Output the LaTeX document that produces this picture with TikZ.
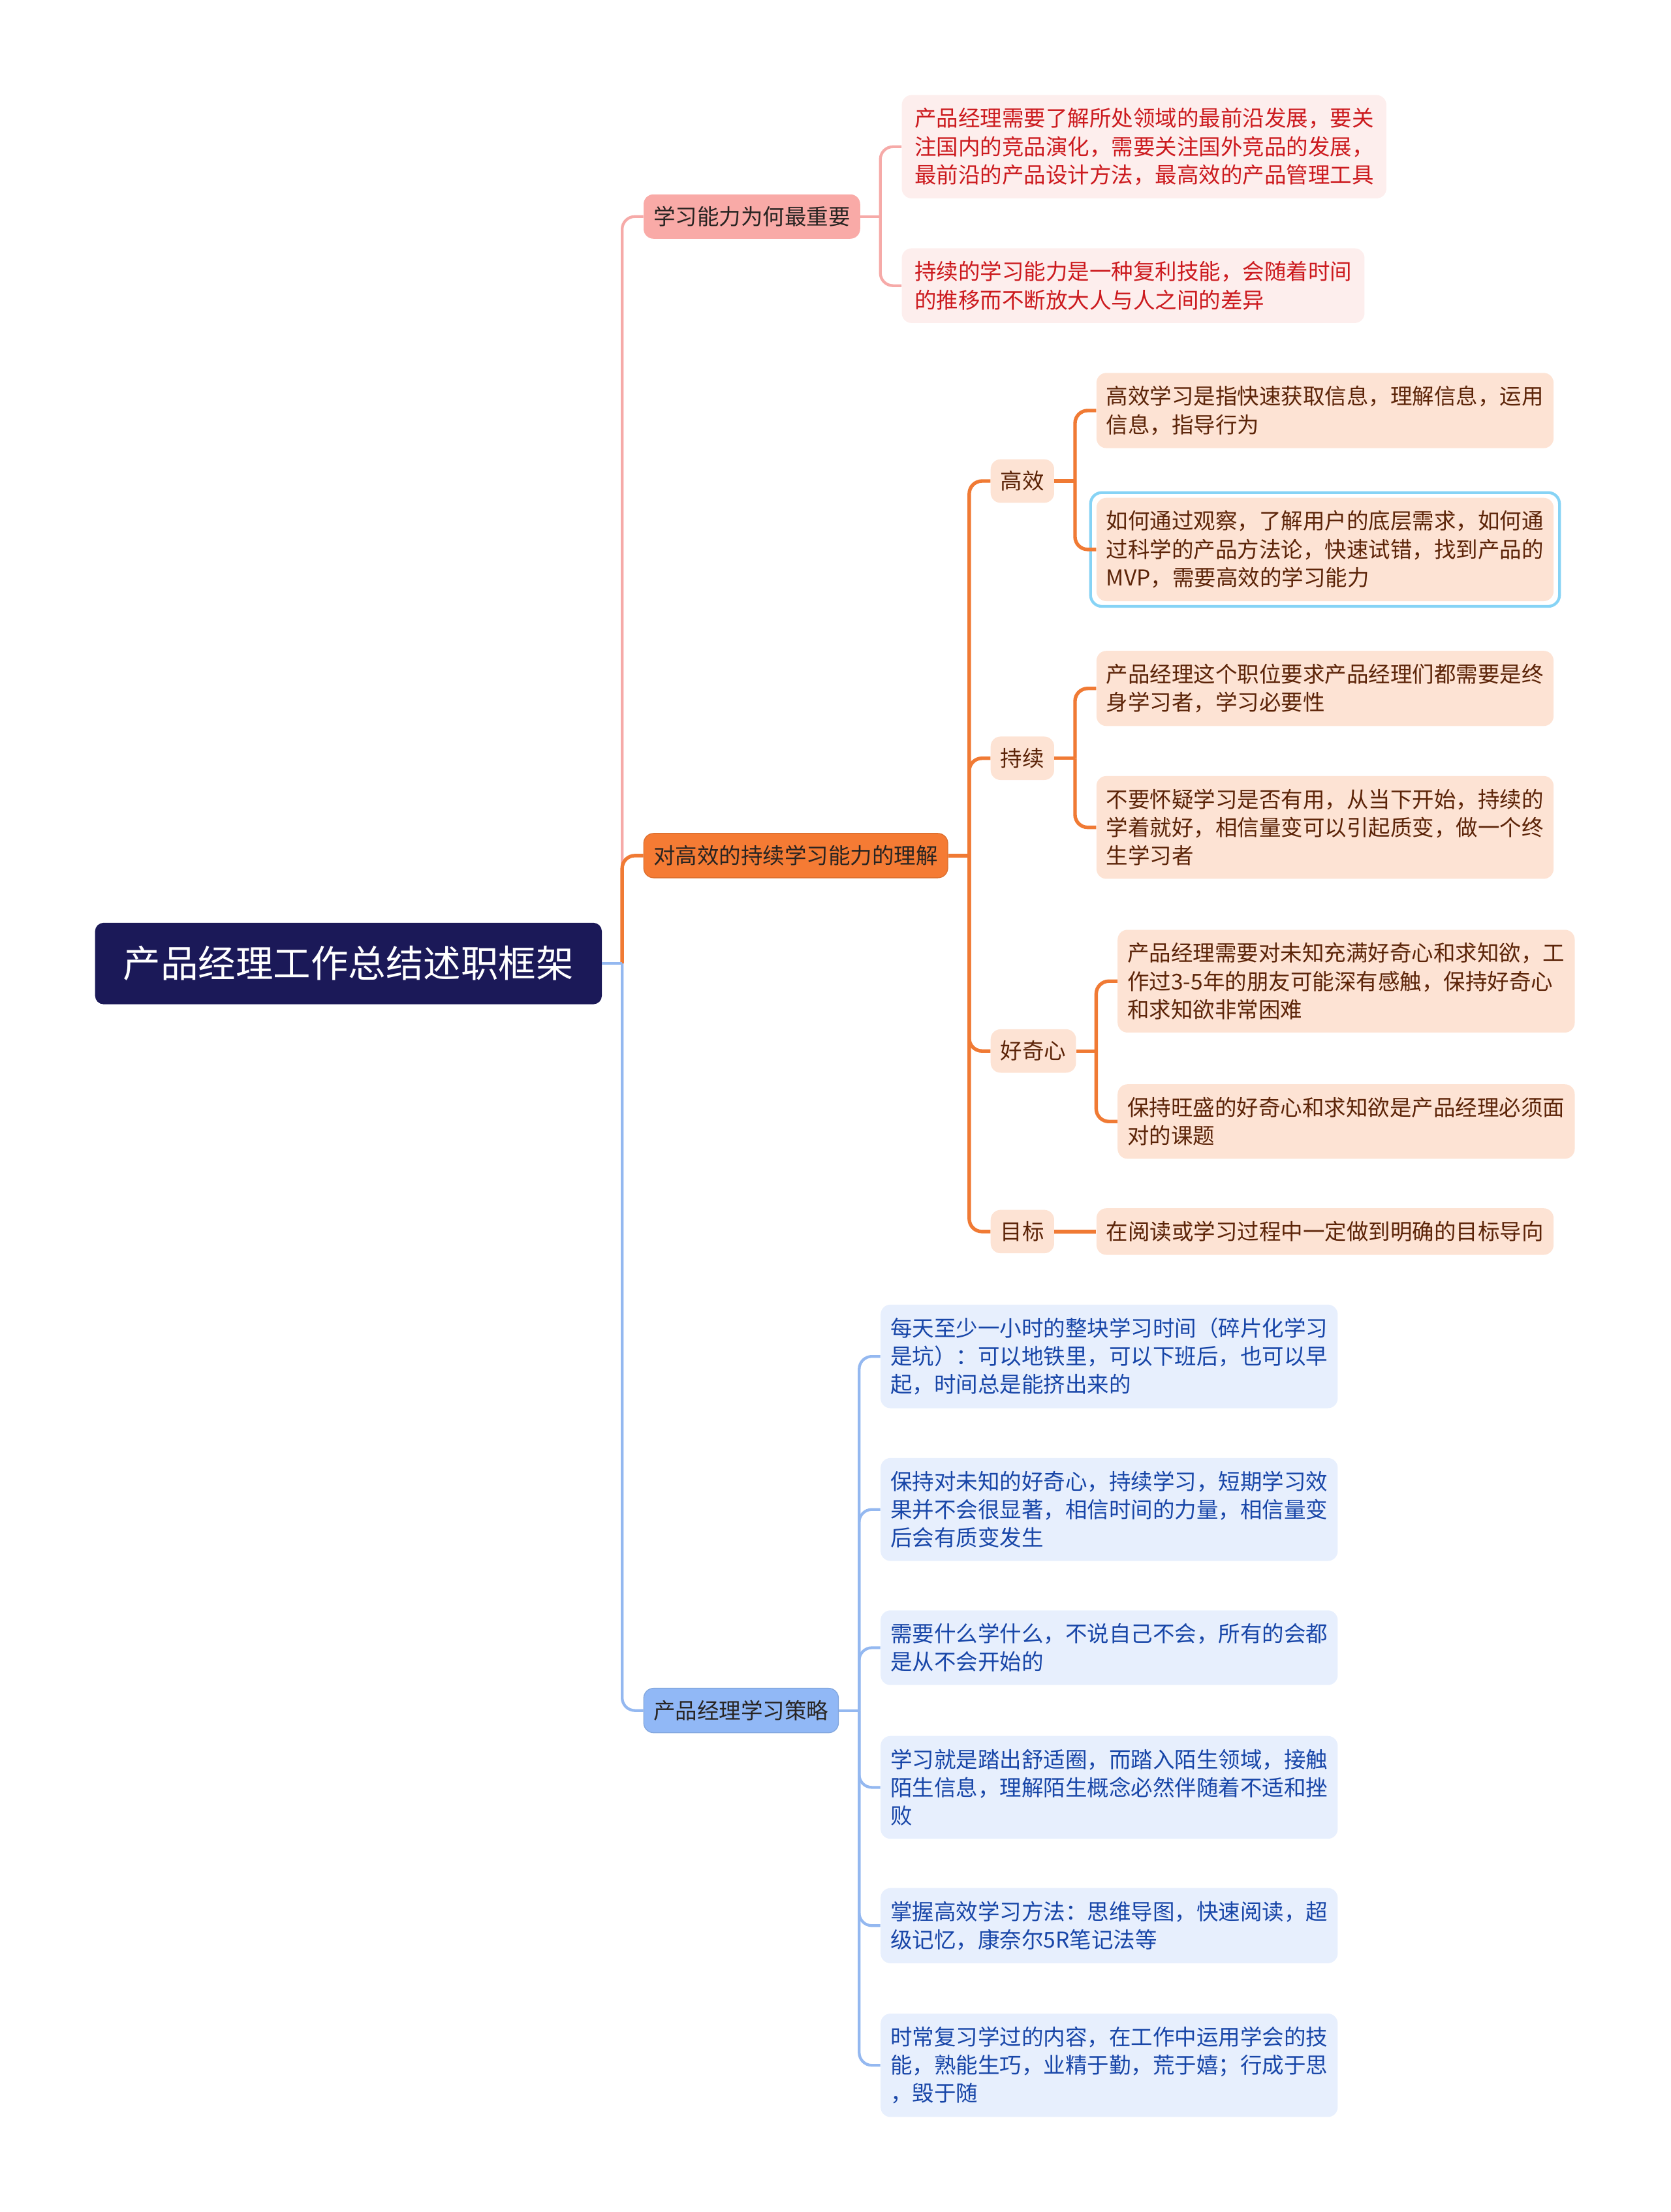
\documentclass[tikz,border=0pt]{standalone}
\usepackage{fontspec}
\setmainfont{Noto Sans CJK SC}
\usetikzlibrary{calc}

\definecolor{rootfill}{RGB}{27,25,88}
\definecolor{pinkhead}{RGB}{249,170,167}
\definecolor{pinkleaf}{RGB}{253,238,237}
\definecolor{pinktext}{RGB}{204,26,30}
\definecolor{pinkline}{RGB}{246,170,168}
\definecolor{orghead}{RGB}{245,123,52}
\definecolor{orgleaf}{RGB}{253,227,212}
\definecolor{orgtext}{RGB}{92,36,8}
\definecolor{orgline}{RGB}{240,122,52}
\definecolor{bluehead}{RGB}{145,184,246}
\definecolor{blueleaf}{RGB}{231,239,253}
\definecolor{bluetext}{RGB}{24,70,168}
\definecolor{blueline}{RGB}{148,184,240}
\definecolor{headtext}{RGB}{40,36,34}
\definecolor{selblue}{RGB}{134,211,245}

\begin{document}
\begin{tikzpicture}[x=1pt, y=-1pt,
  every node/.style={font=\fontsize{15.5}{20}\selectfont, align=left,
    anchor=west, rounded corners=7pt, inner xsep=7pt, inner ysep=9.25pt},
  rootbox/.style={fill=rootfill, text=white, anchor=center,
    font=\fontsize{26.6}{32}\selectfont, inner xsep=20pt, inner ysep=16.5pt,
    rounded corners=6pt},
  pinkhd/.style={fill=pinkhead, text=headtext, inner ysep=8.5pt},
  orghd/.style={fill=orghead, draw=orghead!90!black, line width=0.6pt,
    text=headtext, inner ysep=8.5pt},
  bluehd/.style={fill=bluehead, draw=bluehead!90!black, line width=0.6pt,
    text=headtext, inner ysep=8.5pt},
  pinkbox/.style={fill=pinkleaf, text=pinktext, inner xsep=9pt},
  orgmid/.style={fill=orgleaf, text=orgtext, inner ysep=8.25pt},
  orgbox/.style={fill=orgleaf, text=orgtext},
  bluebox/.style={fill=blueleaf, text=bluetext},
  pinkedge/.style={draw=pinkline, line width=2pt, rounded corners=9pt},
  orgedge/.style={draw=orgline, line width=2.5pt, rounded corners=9pt},
  blueedge/.style={draw=blueline, line width=2pt, rounded corners=9pt},
  selframe/.style={draw=selblue, line width=2pt, rounded corners=8pt}]

  \useasboundingbox (0,0) rectangle (1184,1568);

  % Root
  \node[rootbox] (root) at (247,683) {产品经理工作总结述职框架};
  \coordinate (rootj) at (441,683);

  % First level
  \node[pinkhd] (learn) at (456,153.5) {学习能力为何最重要};
  \node[orghd] (grasp) at (456,606.5) {对高效的持续学习能力的理解};
  \node[bluehd] (plan) at (456,1212.5) {产品经理学习策略};

  \draw[pinkedge] (rootj) |- (learn.west);
  \draw[orgedge] (rootj) |- (grasp.west);
  \draw[blueedge] (rootj) |- (plan.west);
  \draw[blueedge] (root.east) -- (rootj);

  % Why learning matters
  \node[pinkbox] (why1) at (639,104) {产品经理需要了解所处领域的最前沿发展，要关\\注国内的竞品演化，需要关注国外竞品的发展，\\最前沿的产品设计方法，最高效的产品管理工具};
  \node[pinkbox] (why2) at (639,202.5) {持续的学习能力是一种复利技能，会随着时间\\的推移而不断放大人与人之间的差异};

  \coordinate (learnj) at (624,153.5);
  \draw[pinkedge] (learn.east) -- (learnj);
  \draw[pinkedge] (learnj) |- (why1.west);
  \draw[pinkedge] (learnj) |- (why2.west);

  % Understanding: second level
  \node[orgmid] (fast) at (702,341) {高效};
  \node[orgmid] (keep) at (702,537.5) {持续};
  \node[orgmid] (curious) at (702,745) {好奇心};
  \node[orgmid] (goal) at (702,873) {目标};

  \coordinate (graspj) at (687,606.5);
  \draw[orgedge] (grasp.east) -- (graspj);
  \draw[orgedge] (graspj) |- (fast.west);
  \draw[orgedge] (graspj) |- (keep.west);
  \draw[orgedge] (graspj) |- (curious.west);
  \draw[orgedge] (graspj) |- (goal.west);

  % Understanding: leaves
  \node[orgbox] (fast1) at (777,291) {高效学习是指快速获取信息，理解信息，运用\\信息，指导行为};
  \node[orgbox] (fast2) at (777,389.5) {如何通过观察，了解用户的底层需求，如何通\\过科学的产品方法论，快速试错，找到产品的\\MVP，需要高效的学习能力};
  \draw[selframe] ([shift={(-4pt,3.5pt)}]fast2.north west) rectangle ([shift={(4pt,-3.5pt)}]fast2.south east);
  \node[orgbox] (keep1) at (777,488) {产品经理这个职位要求产品经理们都需要是终\\身学习者，学习必要性};
  \node[orgbox] (keep2) at (777,586.5) {不要怀疑学习是否有用，从当下开始，持续的\\学着就好，相信量变可以引起质变，做一个终\\生学习者};
  \node[orgbox] (curious1) at (792,695.5) {产品经理需要对未知充满好奇心和求知欲，工\\作过3-5年的朋友可能深有感触，保持好奇心\\和求知欲非常困难};
  \node[orgbox] (curious2) at (792,795) {保持旺盛的好奇心和求知欲是产品经理必须面\\对的课题};
  \node[orgbox] (goal1) at (777,873) {在阅读或学习过程中一定做到明确的目标导向};

  \coordinate (fastj) at (762,341);
  \coordinate (keepj) at (762,537.5);
  \coordinate (curiousj) at (777,745);
  \draw[orgedge] (fast.east) -- (fastj);
  \draw[orgedge] (fastj) |- (fast1.west);
  \draw[orgedge] (fastj) |- (fast2.west);
  \draw[orgedge] (keep.east) -- (keepj);
  \draw[orgedge] (keepj) |- (keep1.west);
  \draw[orgedge] (keepj) |- (keep2.west);
  \draw[orgedge] (curious.east) -- (curiousj);
  \draw[orgedge] (curiousj) |- (curious1.west);
  \draw[orgedge] (curiousj) |- (curious2.west);
  \draw[orgedge] (goal.east) -- (goal1.west);

  % Learning strategy
  \node[bluebox] (tip1) at (624,961.5) {每天至少一小时的整块学习时间（碎片化学习\\是坑）：可以地铁里，可以下班后，也可以早\\起，时间总是能挤出来的};
  \node[bluebox] (tip2) at (624,1070) {保持对未知的好奇心，持续学习，短期学习效\\果并不会很显著，相信时间的力量，相信量变\\后会有质变发生};
  \node[bluebox] (tip3) at (624,1168) {需要什么学什么，不说自己不会，所有的会都\\是从不会开始的};
  \node[bluebox] (tip4) at (624,1267) {学习就是踏出舒适圈，而踏入陌生领域，接触\\陌生信息，理解陌生概念必然伴随着不适和挫\\败};
  \node[bluebox] (tip5) at (624,1365) {掌握高效学习方法：思维导图，快速阅读，超\\级记忆，康奈尔5R笔记法等};
  \node[bluebox] (tip6) at (624,1464) {时常复习学过的内容，在工作中运用学会的技\\能，熟能生巧，业精于勤，荒于嬉；行成于思\\，毁于随};

  \coordinate (planj) at (609,1212.5);
  \draw[blueedge] (plan.east) -- (planj);
  \draw[blueedge] (planj) |- (tip1.west);
  \draw[blueedge] (planj) |- (tip2.west);
  \draw[blueedge] (planj) |- (tip3.west);
  \draw[blueedge] (planj) |- (tip4.west);
  \draw[blueedge] (planj) |- (tip5.west);
  \draw[blueedge] (planj) |- (tip6.west);
\end{tikzpicture}
\end{document}
